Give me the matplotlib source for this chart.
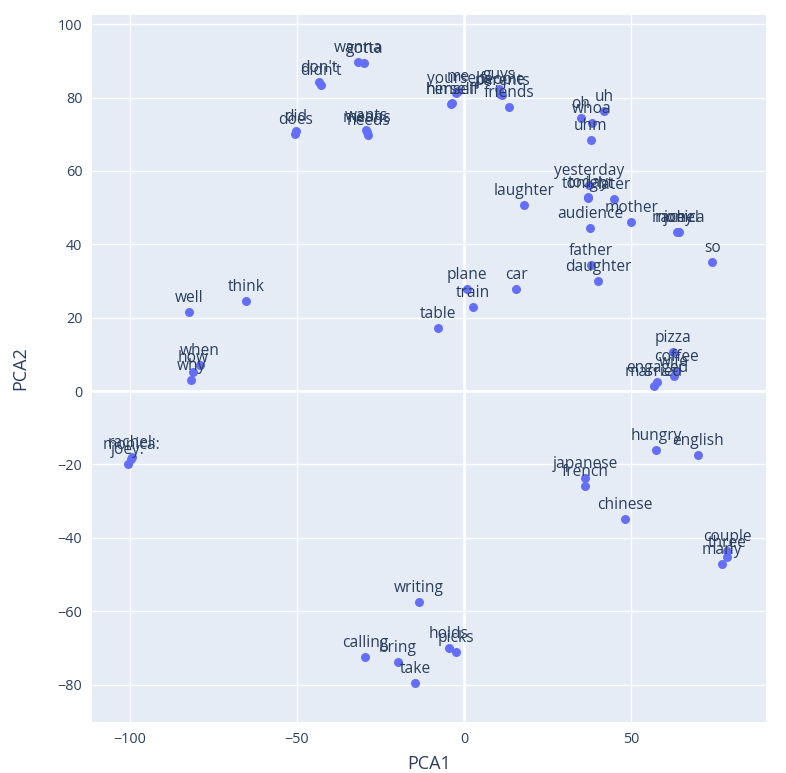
import matplotlib
matplotlib.use("Agg")
import matplotlib.pyplot as plt

plt.rcParams['font.family'] = ['Open Sans', 'DejaVu Sans']

# word embeddings projected to 2D
words = ["wanna", "gotta", "don't", "didn't", "did", "does",
         "wants", "means", "needs",
         "yourself", "me", "herself", "himself",
         "guys", "people", "parents", "friends",
         "oh", "uh", "whoa", "uhm",
         "yesterday", "today", "tonight", "later", "laughter",
         "audience", "mother", "rachel", "joey", "monica", "so",
         "father", "daughter",
         "plane", "car", "train", "table", "well", "think",
         "when", "how", "why",
         "rachel:", "monica:", "joey:",
         "pizza", "coffee", "wife", "engaged", "married",
         "hungry", "english", "japanese", "french", "chinese",
         "couple", "three", "many",
         "writing", "calling", "bring", "holds", "picks", "take"]

pca1 = [-31.7, -29.9, -43.4, -42.8, -50.3, -50.6,
        -29.3, -29.0, -28.7,
        -2.4, -1.8, -3.9, -3.6,
        10.5, 10.8, 11.4, 13.5,
        35.0, 41.9, 38.3, 38.0,
        37.4, 37.1, 37.1, 44.9, 18.0,
        37.7, 50.0, 63.8, 64.4, 64.1, 74.3,
        38.0, 40.1,
        0.9, 15.6, 2.7, -7.8, -82.3, -65.3,
        -79.0, -81.1, -81.7,
        -99.4, -99.7, -100.6,
        62.6, 63.5, 62.9, 57.8, 56.9,
        57.5, 70.1, 36.2, 36.2, 48.2,
        78.7, 78.7, 77.2,
        -13.5, -29.6, -19.8, -4.5, -2.4, -14.7]

pca2 = [89.6, 89.4, 84.2, 83.4, 70.8, 70.0,
        71.1, 70.6, 69.8,
        81.2, 81.7, 78.2, 78.4,
        82.3, 80.9, 80.7, 77.4,
        74.4, 76.3, 73.0, 68.4,
        56.1, 52.9, 52.6, 52.3, 50.7,
        44.4, 46.0, 43.3, 43.3, 43.4, 35.1,
        34.3, 30.0,
        27.8, 27.8, 22.9, 17.2, 21.5, 24.5,
        7.1, 5.2, 3.0,
        -18.0, -18.5, -19.9,
        10.6, 5.4, 4.1, 2.5, 1.4,
        -16.1, -17.4, -23.7, -25.9, -34.9,
        -43.6, -45.2, -47.1,
        -57.5, -72.5, -73.8, -70.0, -71.1, -79.6]

xticks = [-100, -50, 0, 50]
yticks = [-80, -60, -40, -20, 0, 20, 40, 60, 80, 100]

txt = '#2a3f5f'

fig = plt.figure(figsize=(7.86, 7.73), dpi=100)
ax = fig.add_axes([92/786, 51/773, 674/786, 707/773])
ax.set_facecolor('#E5ECF6')
ax.set_xlim(-111.4, 90.4)
ax.set_ylim(-90.2, 102.5)

ax.set_xticks(xticks)
ax.set_yticks(yticks)
ax.grid(True, color='white', linewidth=1)
ax.set_axisbelow(True)
ax.axhline(0, color='white', linewidth=2, zorder=0.5)
ax.axvline(0, color='white', linewidth=2, zorder=0.5)
for s in ax.spines.values():
    s.set_visible(False)
ax.tick_params(length=0, labelsize=10.4, labelcolor=txt, pad=7)

ax.scatter(pca1, pca2, s=42, color='#636EFA', zorder=2, linewidths=0)
for w, x, y in zip(words, pca1, pca2):
    ax.annotate(w, (x, y), xytext=(0, 10), textcoords='offset points',
                ha='center', va='center', fontsize=11.2, color=txt, zorder=3)

ax.set_xlabel('PCA1', fontsize=13, color=txt, labelpad=6)
ax.set_ylabel('PCA2', fontsize=13, color=txt, labelpad=20)

fig.savefig('out.png', dpi=100)
